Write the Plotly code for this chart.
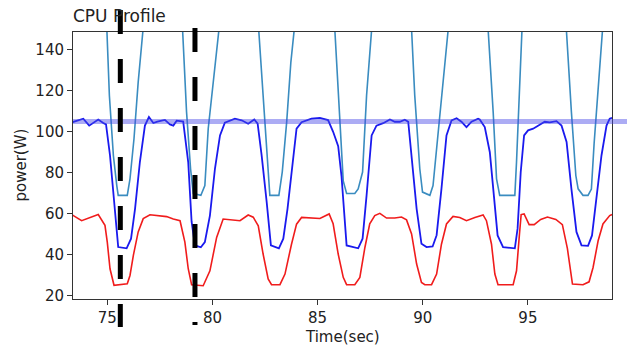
import plotly.graph_objects as go

# ---- data ----
blue_t = [73.23, 73.86, 74.14, 74.57, 74.81, 74.94, 75.13, 75.37, 75.52, 75.92, 76.13, 76.32, 76.55, 76.79,
          76.98, 77.19, 77.38, 77.74, 77.98, 78.14, 78.30, 78.61, 78.85, 79.01, 79.17, 79.45, 79.64, 79.88,
          80.12, 80.36, 80.59, 81.07, 81.39, 81.70, 81.99, 82.15, 82.34, 82.58, 82.78, 83.16, 83.37, 83.57,
          83.84, 84.00, 84.24, 84.71, 85.11, 85.50, 85.74, 85.98, 86.14, 86.30, 86.38, 86.93, 87.14, 87.33,
          87.57, 87.80, 88.12, 88.44, 88.67, 88.91, 89.15, 89.31, 89.47, 89.71, 89.94, 90.18, 90.47, 90.66,
          90.89, 91.13, 91.37, 91.61, 91.84, 92.08, 92.32, 92.48, 92.63, 92.71, 92.95, 93.19, 93.39, 93.56,
          93.82, 94.38, 94.51, 94.66, 94.82, 95.01, 95.25, 95.49, 95.80, 96.04, 96.36, 96.60, 96.84, 97.07,
          97.31, 97.55, 97.86, 98.05, 98.26, 98.50, 98.74, 98.89, 99.00]
blue_w = [104.3, 106.4, 103.0, 106.0, 104.3, 103.6, 88.4, 59.0, 43.6, 43.0, 47.7, 62.3, 85.2, 103.0,
          107.2, 104.3, 105.0, 105.8, 103.6, 103.0, 105.4, 105.0, 85.0, 56.0, 44.4, 43.5, 46.0, 59.0,
          81.9, 98.2, 104.4, 106.4, 105.6, 103.9, 106.0, 104.0, 88.4, 65.6, 44.4, 43.0, 47.7, 62.3,
          88.4, 101.5, 104.7, 106.4, 106.8, 105.7, 100.0, 93.0, 78.0, 58.0, 44.4, 43.0, 47.7, 68.9,
          98.2, 103.0, 104.2, 106.0, 104.9, 104.9, 105.9, 104.9, 88.4, 62.3, 45.2, 43.6, 43.9, 49.4,
          72.1, 98.2, 105.5, 106.6, 104.9, 102.3, 104.9, 105.5, 106.4, 106.0, 102.3, 90.0, 68.9, 49.3,
          43.6, 43.0, 52.6, 80.3, 98.2, 100.7, 101.5, 103.0, 104.9, 104.6, 105.2, 103.0, 95.0, 72.1,
          51.0, 44.4, 44.2, 49.3, 68.9, 88.4, 103.0, 106.4, 106.8]

red_t = [73.23, 73.62, 73.78, 74.57, 74.89, 75.00, 75.13, 75.32, 75.60, 75.95, 76.08, 76.24, 76.47, 76.71,
         77.03, 77.42, 77.82, 78.14, 78.46, 78.69, 78.85, 79.01, 79.56, 79.88, 80.20, 80.51, 80.83, 81.31,
         81.70, 81.94, 82.18, 82.41, 82.65, 82.81, 83.21, 83.45, 83.76, 84.00, 84.24, 85.11, 85.55, 85.74,
         85.98, 86.22, 86.38, 86.77, 87.01, 87.25, 87.48, 87.72, 87.96, 88.28, 88.67, 88.99, 89.23, 89.47,
         89.71, 89.94, 90.10, 90.42, 90.66, 90.89, 91.13, 91.44, 91.76, 92.08, 92.48, 92.87, 93.03, 93.27,
         93.43, 93.58, 94.30, 94.46, 94.60, 94.68, 94.82, 95.06, 95.30, 95.61, 95.93, 96.33, 96.64, 96.88,
         97.12, 97.62, 97.91, 98.10, 98.34, 98.57, 98.89, 99.00]
red_w = [60.0, 57.5, 56.5, 59.5, 54.2, 46.0, 33.0, 24.9, 25.3, 25.6, 29.7, 39.5, 51.0, 57.5,
         59.4, 59.1, 58.5, 57.3, 56.5, 46.0, 33.0, 25.2, 24.7, 32.0, 48.3, 57.3, 56.9, 56.5,
         59.3, 58.2, 54.0, 40.2, 28.0, 25.2, 25.2, 30.4, 45.0, 54.8, 58.1, 57.6, 59.8, 55.0,
         40.2, 28.8, 25.2, 25.2, 28.8, 43.4, 55.0, 59.0, 60.1, 57.8, 57.8, 58.3, 56.9, 50.0,
         35.3, 26.3, 25.2, 25.2, 30.4, 45.0, 54.9, 58.6, 58.1, 56.5, 58.1, 59.3, 56.5, 45.0,
         30.4, 25.2, 25.2, 32.0, 50.0, 59.5, 59.8, 54.6, 54.6, 57.1, 58.3, 57.1, 54.6, 42.8,
         25.5, 25.2, 26.6, 33.6, 46.7, 54.9, 59.0, 59.5]

cyan_t = [73.23, 74.98, 75.10, 75.29, 75.45, 75.52, 75.95, 76.08, 76.27, 76.47, 76.70, 77.40,
          78.58, 78.77, 78.96, 79.09, 79.45, 79.64, 79.80, 80.04, 80.31, 81.20,
          82.20, 82.41, 82.62, 82.73, 83.16, 83.32, 83.53, 83.73, 83.89, 84.80,
          85.82, 86.22, 86.38, 86.77, 86.93, 87.14, 87.33, 87.57, 88.40,
          89.47, 89.62, 89.86, 89.99, 90.34, 90.49, 90.68, 90.89, 91.21, 92.00,
          93.11, 93.35, 93.51, 93.66, 94.38, 94.46, 94.57, 94.72, 95.70,
          96.83, 97.07, 97.28, 97.39, 97.62, 97.86, 98.02, 98.15, 98.31, 98.55, 99.00]
cyan_w = [190, 150, 117.7, 88.4, 73.8, 68.9, 68.9, 77.0, 96.6, 124.3, 150, 190,
          150, 109.6, 81.9, 69.8, 68.9, 73.7, 101.5, 126.0, 150, 190,
          150, 117.8, 88.4, 68.9, 68.9, 80.3, 104.7, 134.1, 150, 190,
          150, 76.0, 69.8, 69.8, 72.0, 80.3, 117.8, 150, 190,
          150, 117.8, 81.9, 70.5, 68.9, 73.7, 94.3, 117.8, 150, 190,
          150, 109.6, 77.0, 68.9, 68.9, 85.2, 109.6, 150, 190,
          150, 109.6, 78.6, 72.1, 68.9, 68.9, 72.0, 94.3, 117.8, 150, 190]

ref_level = 105.0
marker_times = [75.62, 79.17]

title_text = "CPU Profile"
x_label = "Time(sec)"
y_label = "power(W)"
x_ticks = [75, 80, 85, 90, 95]
y_ticks = [20, 40, 60, 80, 100, 120, 140]

# ---- figure ----
W, H = 627, 347
L, R, T, B = 73, 15, 32, 48
plot_h = H - T - B

def py(pix):
    return (H - B - pix) / plot_h

fig = go.Figure()
fig.add_trace(go.Scatter(x=cyan_t, y=cyan_w, mode="lines",
                         line=dict(color="#3a8cc0", width=1.6), showlegend=False))
fig.add_trace(go.Scatter(x=blue_t, y=blue_w, mode="lines",
                         line=dict(color="#1a1aee", width=1.8), showlegend=False))
fig.add_trace(go.Scatter(x=red_t, y=red_w, mode="lines",
                         line=dict(color="#f01c1c", width=1.6), showlegend=False))

# horizontal reference band, extends past the right spine
fig.add_shape(type="line", xref="paper", yref="y", x0=0, x1=(W - L) / (W - L - R),
              y0=ref_level, y1=ref_level, layer="above",
              line=dict(color="rgba(70,70,230,0.45)", width=5))

# vertical dashed markers extending beyond the axes
spans = [(py(10), py(327)), (py(28), py(325))]
for t, (ya, yb) in zip(marker_times, spans):
    fig.add_shape(type="line", xref="x", yref="paper", x0=t, x1=t, y0=ya, y1=yb,
                  layer="above", line=dict(color="black", width=5, dash="24px,25px"))

axis_common = dict(showline=True, linecolor="#333", linewidth=1, mirror=True,
                   ticks="outside", ticklen=5, tickcolor="#333", showgrid=False,
                   zeroline=False, tickfont=dict(family="DejaVu Sans", size=15, color="#222"))
fig.update_xaxes(range=[73.37, 99.0], tickvals=x_ticks, **axis_common)
fig.update_yaxes(range=[18.2, 148.8], tickvals=y_ticks, **axis_common)

fig.add_annotation(text=x_label, xref="paper", yref="paper", x=0.5, y=py(337),
                   showarrow=False, xanchor="center", yanchor="middle",
                   font=dict(family="DejaVu Sans", size=15, color="#222"))
fig.add_annotation(text=y_label, xref="paper", yref="paper", x=(20 - L) / (W - L - R), y=0.5,
                   showarrow=False, xanchor="center", yanchor="middle", textangle=-90,
                   font=dict(family="DejaVu Sans", size=15, color="#222"))

fig.update_layout(
    width=W, height=H, margin=dict(l=L, r=R, t=T, b=B),
    paper_bgcolor="white", plot_bgcolor="white",
    title=dict(text=title_text, xref="paper", x=0, xanchor="left",
               yref="container", y=1 - 16.5 / H, yanchor="middle",
               font=dict(family="DejaVu Sans", size=17, color="#222")),
)

fig.write_html("out.html")
